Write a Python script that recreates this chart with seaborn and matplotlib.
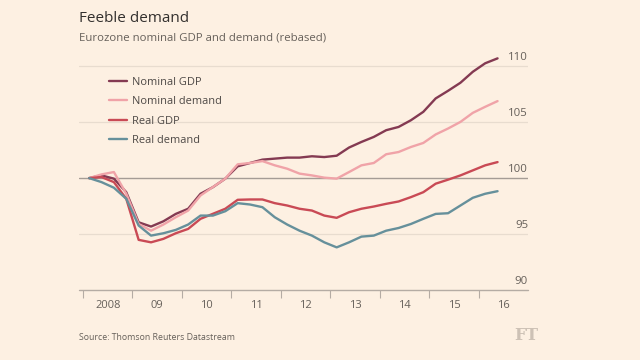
import numpy as np
import pandas as pd
import matplotlib
matplotlib.use("Agg")
import matplotlib.pyplot as plt
import matplotlib.transforms as mtransforms
from matplotlib.lines import Line2D
import seaborn as sns

quarters = pd.period_range("2008Q1", "2016Q2", freq="Q")

nominal_gdp = [100.0, 100.24, 99.95, 98.74, 96.05, 95.67, 96.14, 96.8, 97.26, 98.6,
               99.19, 99.95, 101.05, 101.35, 101.65, 101.74, 101.83, 101.83, 101.95, 101.88,
               102.0, 102.73, 103.23, 103.68, 104.28, 104.57, 105.17, 105.92, 107.12, 107.8,
               108.52, 109.5, 110.26, 110.7]
nominal_demand = [100.0, 100.33, 100.54, 98.6, 95.9, 95.3, 95.85, 96.5, 97.1, 98.45,
                  99.2, 99.95, 101.23, 101.35, 101.52, 101.14, 100.84, 100.4, 100.24, 100.04,
                  99.95, 100.54, 101.14, 101.35, 102.13, 102.33, 102.78, 103.14, 103.9, 104.43,
                  105.02, 105.83, 106.37, 106.88]
real_gdp = [100.0, 100.09, 99.64, 98.15, 94.48, 94.26, 94.57, 95.07, 95.46, 96.36,
            96.81, 97.26, 98.06, 98.09, 98.09, 97.76, 97.55, 97.26, 97.1, 96.65,
            96.45, 96.95, 97.26, 97.46, 97.7, 97.91, 98.3, 98.74, 99.5, 99.86,
            100.24, 100.69, 101.14, 101.43]
real_demand = [100.0, 99.64, 99.14, 98.15, 95.76, 94.86, 95.07, 95.37, 95.85, 96.65,
               96.65, 97.04, 97.76, 97.64, 97.4, 96.5, 95.85, 95.3, 94.86, 94.26,
               93.81, 94.26, 94.77, 94.86, 95.3, 95.54, 95.9, 96.36, 96.8, 96.86,
               97.55, 98.24, 98.6, 98.83]

series_names = ["Nominal GDP", "Nominal demand", "Real GDP", "Real demand"]
series_values = [nominal_gdp, nominal_demand, real_gdp, real_demand]
colors = ["#843a52", "#f0a3a8", "#c94a55", "#66909b"]

y_ticks = [90, 95, 100, 105, 110]
x_years = list(range(2008, 2017))
x_labels = ["2008", "09", "10", "11", "12", "13", "14", "15", "16"]

title = "Feeble demand"
subtitle = "Eurozone nominal GDP and demand (rebased)"
source = "Source: Thomson Reuters Datastream"

xpos = np.array([q.year + (q.quarter - 1) / 4 + 0.125 for q in quarters])
df = pd.concat([pd.DataFrame({"x": xpos, "value": v, "series": n})
                for n, v in zip(series_names, series_values)], ignore_index=True)

BG = "#fdf0e2"
sns.set_theme(style="white")
plt.rcParams["font.family"] = ["Open Sans", "DejaVu Sans"]

fig = plt.figure(figsize=(6.4, 3.6), dpi=100, facecolor=BG)
ax = fig.add_axes([79 / 640, 1 - 290 / 360, (528 - 79) / 640, (290 - 55) / 360])
ax.set_facecolor(BG)

# grid lines
for yv in y_ticks:
    if yv == 100:
        ax.axhline(yv, color="#a59c95", lw=1.0, zorder=1)
    elif yv == 90:
        ax.axhline(yv, color="#b5aca4", lw=1.0, zorder=1, clip_on=False)
    else:
        ax.axhline(yv, color="#e8dccf", lw=0.9, zorder=1)

sns.lineplot(data=df, x="x", y="value", hue="series", hue_order=series_names,
             palette=colors, linewidth=1.7, ax=ax, legend=False, zorder=3)

ax.set_xlim(2007.92, 2016.99)
ax.set_ylim(90, 111)
for s in ax.spines.values():
    s.set_visible(False)
ax.set_xlabel("")
ax.set_ylabel("")
ax.set_yticks([])
ax.set_xticks(x_years)
ax.set_xticklabels([])
ax.tick_params(axis="x", bottom=True, length=6, width=0.8, color="#b5aca4", direction="out", pad=0)

trans_x = mtransforms.blended_transform_factory(ax.transData, ax.transAxes)
for yr, lab in zip(x_years, x_labels):
    ax.text(yr + 0.5, -0.065, lab, transform=trans_x, ha="center", va="center",
            fontsize=8, color="#66605a")

trans_y = mtransforms.blended_transform_factory(ax.transAxes, ax.transData)
for yv in y_ticks:
    ax.text(1.0, yv + 0.25, str(yv), transform=trans_y, ha="right", va="bottom",
            fontsize=8.2, color="#66605a")

# legend
handles = [Line2D([0], [0], color=c, lw=1.7) for c in colors]
leg = ax.legend(handles, series_names, loc="upper left", bbox_to_anchor=(0.045, 0.95),
                frameon=False, fontsize=7.9, handlelength=1.6, handletextpad=0.5,
                labelspacing=0.78, labelcolor="#4d4845")

fig.text(79 / 640, 1 - 19 / 360, title, fontsize=11, color="#33302e", va="center", ha="left")
fig.text(79 / 640, 1 - 38 / 360, subtitle, fontsize=8.2, color="#66605a", va="center", ha="left")
fig.text(79 / 640, 1 - 337 / 360, source, fontsize=6.3, color="#66605a", va="center", ha="left")
fig.text(538 / 640, 1 - 336 / 360, "FT", fontsize=12, color="#cdc1b5", va="center", ha="right",
         family=["DejaVu Serif"], fontweight="bold")

fig.savefig("out.png", dpi=100, facecolor=BG)
